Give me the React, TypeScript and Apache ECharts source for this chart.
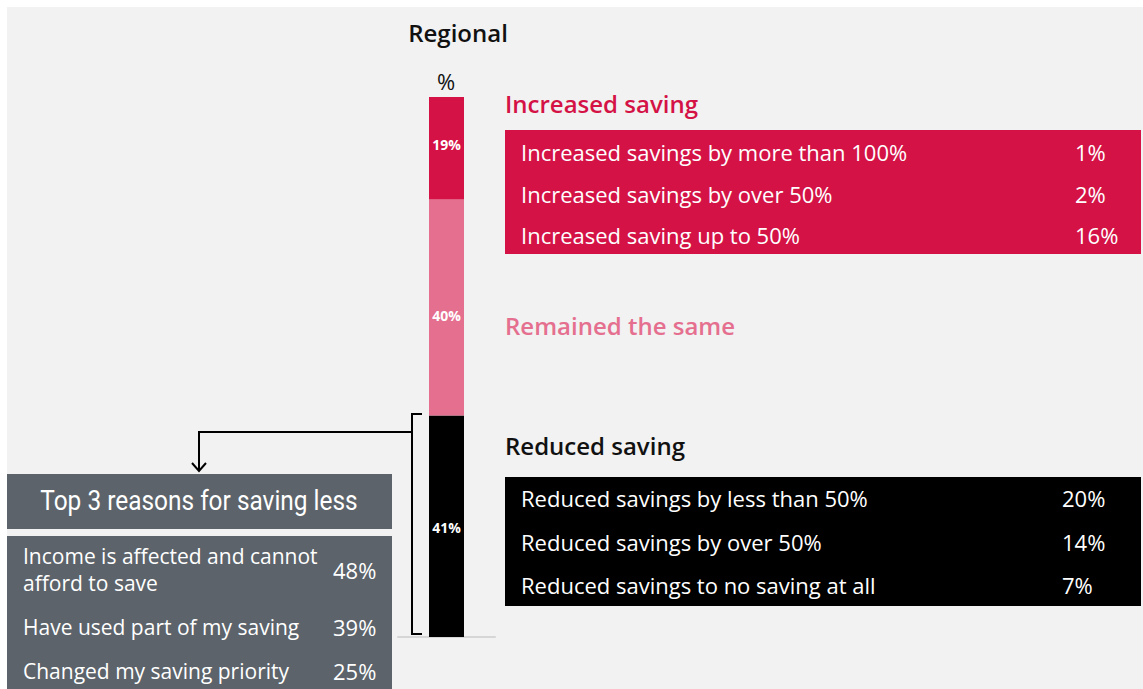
import React, { useEffect, useRef } from "react";
import * as echarts from "echarts";

const categories = ["Regional"];
const increasedSaving = [19];
const remainedSame = [40];
const reducedSaving = [41];

const increasedRows = ["Increased savings by more than 100%", "Increased savings by over 50%", "Increased saving up to 50%"];
const increasedVals = ["1%", "2%", "16%"];
const reducedRows = ["Reduced savings by less than 50%", "Reduced savings by over 50%", "Reduced savings to no saving at all"];
const reducedVals = ["20%", "14%", "7%"];
const reasonRows = ["Income is affected and cannot\nafford to save", "Have used part of my saving", "Changed my saving priority"];
const reasonVals = ["48%", "39%", "25%"];

const RED = "#d41246";
const PINK = "#e56f8f";
const GREY = "#5c636a";
const BG = "#f2f2f2";
const BODY = "'Open Sans', Roboto, sans-serif";
const COND = "Roboto, sans-serif";

export default function App() {
  const ref = useRef<HTMLDivElement>(null);
  useEffect(() => {
    if (!ref.current) return;
    const chart = echarts.init(ref.current, undefined, { renderer: "svg" });

    const txt = (x: number, y: number, text: string, o: any = {}) => ({
      type: "text",
      x,
      y: o.fontFamily ? y : y - 1.5,
      z: 10,
      scaleX: o.scaleX || 1,
      style: {
        text,
        fill: o.fill || "#fff",
        fontSize: o.fontSize || 22,
        fontWeight: o.fontWeight || "normal",
        fontFamily: o.fontFamily || BODY,
        textAlign: o.align || "left",
        textVerticalAlign: "middle",
        lineHeight: o.lineHeight,
      },
    });

    const graphics: any[] = [];
    graphics.push({ type: "rect", z: -10, shape: { x: 7, y: 7, width: 1136, height: 682 }, style: { fill: BG } });
    graphics.push(txt(458, 34, categories[0], { fill: "#111", fontSize: 24, fontWeight: 600, align: "center" }));
    graphics.push(txt(446, 82, "%", { fill: "#111", fontSize: 22, align: "center" }));

    // Increased
    graphics.push(txt(505, 105, "Increased saving", { fill: RED, fontSize: 24, fontWeight: 600 }));
    graphics.push({ type: "rect", shape: { x: 505, y: 130, width: 636, height: 124 }, style: { fill: RED } });
    const incY = [153, 195, 236];
    increasedRows.forEach((r, i) => {
      graphics.push(txt(521, incY[i], r));
      graphics.push(txt(1075, incY[i], increasedVals[i]));
    });

    graphics.push(txt(505, 327, "Remained the same", { fill: PINK, fontSize: 24, fontWeight: 600 }));

    // Reduced
    graphics.push(txt(505, 447, "Reduced saving", { fill: "#111", fontSize: 24, fontWeight: 600 }));
    graphics.push({ type: "rect", shape: { x: 505, y: 477, width: 636, height: 129 }, style: { fill: "#000" } });
    const redY = [499, 543, 586];
    reducedRows.forEach((r, i) => {
      graphics.push(txt(521, redY[i], r));
      graphics.push(txt(1062, redY[i], reducedVals[i]));
    });

    // Bracket and arrow
    const ls = { stroke: "#000", lineWidth: 2, fill: "none" };
    graphics.push({ type: "polyline", shape: { points: [[422, 414], [412, 414], [412, 634], [422, 634]] }, style: ls });
    graphics.push({ type: "polyline", shape: { points: [[411, 432], [199, 432], [199, 470]] }, style: ls });
    graphics.push({ type: "polyline", shape: { points: [[192, 463], [199, 471], [206, 463]] }, style: ls });

    // Reasons
    graphics.push({ type: "rect", shape: { x: 7, y: 474, width: 385, height: 55 }, style: { fill: GREY } });
    graphics.push(txt(199, 501, "Top 3 reasons for saving less", { fontSize: 27, fontFamily: COND, align: "center", scaleX: 0.905 }));
    graphics.push({ type: "rect", shape: { x: 7, y: 536, width: 385, height: 153 }, style: { fill: GREY } });
    const reaY = [571, 628, 672];
    reasonRows.forEach((r, i) => {
      graphics.push(txt(23, reaY[i], r, { fontSize: 21, lineHeight: 27 }));
      graphics.push(txt(333, reaY[i], reasonVals[i]));
    });

    const mkSeries = (name: string, data: number[], color: string, offset: number[]) => ({
      name,
      type: "bar",
      stack: "total",
      barWidth: 35,
      data,
      itemStyle: { color },
      label: {
        show: true,
        position: "inside",
        offset,
        formatter: "{c}%",
        color: "#fff",
        fontSize: 14,
        fontWeight: "bold",
        fontFamily: BODY,
      },
    });

    chart.setOption({
      animation: false,
      grid: { left: 398, top: 97, width: 97, height: 540 },
      xAxis: {
        type: "category",
        data: categories,
        axisLine: { show: true, lineStyle: { color: "#d6d6d6", width: 2 } },
        axisTick: { show: false },
        axisLabel: { show: false },
      },
      yAxis: { type: "value", min: 0, max: 100, show: false, splitLine: { show: false } },
      series: [
        mkSeries("Reduced saving", reducedSaving, "#000", [0, 1]),
        mkSeries("Remained the same", remainedSame, PINK, [0, 8]),
        mkSeries("Increased saving", increasedSaving, RED, [0, -4]),
      ],
      graphic: graphics,
    });
    return () => chart.dispose();
  }, []);
  return <div ref={ref} style={{ position: "absolute", left: 0, top: 0, width: 1143, height: 689 }} />;
}
